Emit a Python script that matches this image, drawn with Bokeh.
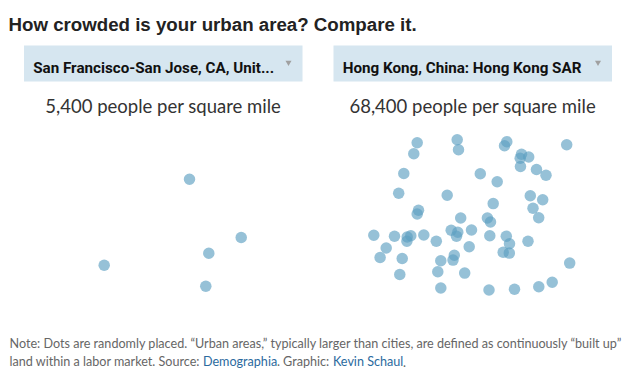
from bokeh.plotting import figure
from bokeh.models import Range1d
from bokeh.core.properties import value
from bokeh.embed import file_html
from bokeh.resources import INLINE

# ---------------- data ----------------
title = "How crowded is your urban area? Compare it."
areas = ["San Francisco-San Jose, CA, Unit...", "Hong Kong, China: Hong Kong SAR"]
density = [5400, 68400]

# dot positions (panel-local pixels; dots are randomly placed)
sf_x = [165.0, 216.7, 184.3, 79.7, 181.3]
sf_y = [58.7, 117.0, 132.7, 144.7, 165.7]

hk_x = [83.7, 80.3, 123.7, 125.0, 173.3, 171.0, 233.2, 188.0, 186.7, 195.2,
        187.0, 203.0, 212.5, 70.3, 146.8, 163.7, 65.2, 113.7, 196.8, 209.2,
        159.7, 199.5, 85.0, 83.7, 205.2, 127.2, 153.9, 157.0, 40.3, 61.0,
        73.7, 77.3, 73.4, 90.3, 102.8, 117.7, 124.3, 123.0, 138.0, 156.3,
        172.8, 176.0, 194.5, 52.7, 46.6, 68.7, 135.7, 120.8, 119.5, 107.3,
        169.7, 175.8, 236.2, 66.3, 104.3, 131.2, 107.3, 155.5, 181.0, 205.3,
        218.7]
hk_y = [22.3, 33.2, 19.3, 29.2, 21.2, 25.2, 24.3, 33.7, 37.7, 36.5,
        46.0, 49.0, 54.7, 53.0, 53.3, 61.3, 72.7, 74.7, 75.2, 79.3,
        83.1, 87.7, 89.8, 93.5, 97.3, 97.5, 97.5, 101.5, 114.7, 115.8,
        116.5, 115.2, 120.7, 114.5, 120.7, 109.7, 111.8, 115.7, 109.5, 115.2,
        115.8, 123.3, 120.7, 127.5, 137.0, 138.0, 126.2, 134.8, 139.6, 140.3,
        131.8, 132.6, 142.6, 154.0, 151.3, 152.6, 167.5, 169.5, 168.7, 166.2,
        161.8]

note1 = "Note: Dots are randomly placed. \u201cUrban areas,\u201d typically larger than cities, are defined as continuously \u201cbuilt up\u201d"
note2_parts = ["land within a labor market. Source: ", "Demographia", ". Graphic: ", "Kevin Schaul", "."]
note2_link = [False, True, False, True, False]

# ---------------- layout ----------------
W, H = 630, 376
panel_left = [23.5, 333]
panel_w = 278.5
box_top, box_bot = 45, 81
dots_top = 120

p = figure(width=W, height=H, output_backend="svg", toolbar_location=None,
           x_range=Range1d(0, W), y_range=Range1d(H, 0), min_border=0)
p.axis.visible = False
p.grid.visible = False
p.outline_line_color = None
p.background_fill_color = "white"

# title
p.text(x=[8], y=[23.5], text=[title], text_font=value("Liberation Sans"), text_font_size="18.7px",
       text_font_style="bold", text_color="#222222", text_baseline="alphabetic")

# dropdown boxes
p.quad(left=[l for l in panel_left], right=[l + panel_w for l in panel_left],
       top=[box_top] * 2, bottom=[box_bot] * 2, fill_color="#d6e6f0", line_color=None)
p.text(x=[l + 9.2 for l in panel_left], y=[67.3] * 2, text=areas,
       text_font=value("Roboto"), text_font_size="15.2px", text_font_style="bold",
       text_color="#111111", text_baseline="alphabetic")
p.scatter(x=[l + 264.5 for l in panel_left], y=[62] * 2, marker="inverted_triangle",
          size=6, fill_color="#a0a0a0", line_color=None)

# density labels
p.text(x=[l + panel_w / 2 for l in panel_left], y=[105] * 2,
       text=[f"{d:,} people per square mile" for d in density],
       text_font=value("Lato"), text_font_size="18.5px", text_color="#333333",
       text_align="center", text_baseline="alphabetic", text_font_style="normal")

# dots
dot_style = dict(size=11.5, fill_color="#5d9fc2", fill_alpha=0.65, line_color=None)
p.scatter(x=[panel_left[0] + 0.5 + v for v in sf_x], y=[dots_top + v for v in sf_y], **dot_style)
p.scatter(x=[panel_left[1] + v for v in hk_x], y=[dots_top + v for v in hk_y], **dot_style)

# note
note_font = dict(text_font=value("Lato"), text_font_size="12.6px", text_baseline="alphabetic")
p.text(x=[9], y=[343], text=[note1], text_color="#666666", **note_font)
starts = [9, 202.4, 276.4, 332.5, 402.4]
for s, t, link in zip(starts, note2_parts, note2_link):
    p.text(x=[s], y=[361], text=[t], text_color="#2b6a9e" if link else "#666666", **note_font)

open("out.html", "w").write(file_html(p, INLINE))
